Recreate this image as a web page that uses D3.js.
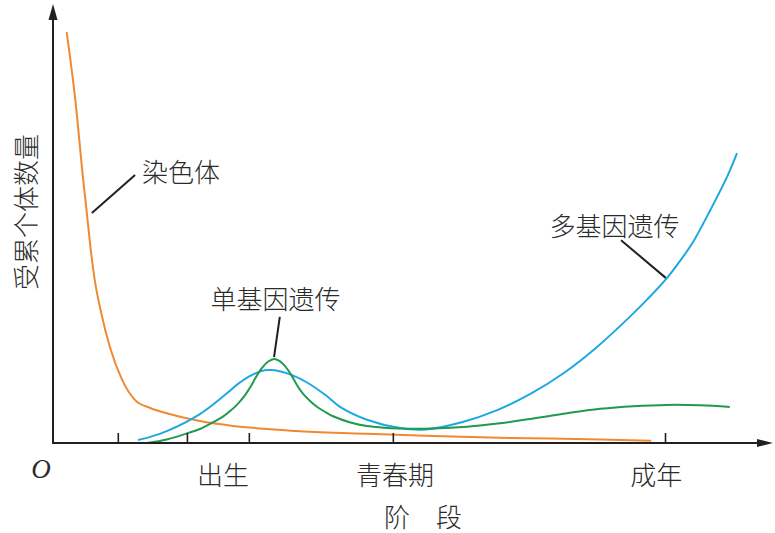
<!DOCTYPE html>
<html>
<head>
<meta charset="utf-8">
<script src="https://cdn.jsdelivr.net/npm/d3@7"></script>
<style>
  html, body { margin: 0; padding: 0; background: #fff; }
  svg { display: block; }
  text { font-family: "Noto Sans CJK SC", "Noto Sans", sans-serif; fill: #2b2b2b; font-weight: 300; }
</style>
</head>
<body>
<svg id="chart" width="775" height="533"></svg>
<script>
// ---------- data ----------
// x: developmental stage (0–100), y: number of affected individuals (0–100)
const chromoX = [1.9, 3.1, 4.2, 4.7, 5.2, 5.8, 6.7, 7.9, 9.6, 11.4, 13.5, 15.8, 20.4, 25, 29.7, 34.3, 43.6, 52.8, 62.1, 76, 83.1];
const chromoY = [93.8, 78.3, 60, 52.5, 44.7, 37.2, 29.7, 21.9, 14.4, 9.8, 8.0, 6.8, 5.0, 3.9, 3.2, 2.7, 2.1, 1.6, 1.2, 0.8, 0.5];

const polyX = [11.8, 13.5, 15.8, 20.4, 23.9, 25.7, 27.6, 29.4, 30.8, 33.2, 35.4, 37.8, 40.1, 43.6, 48.2, 51.7, 56.9, 61.7, 66.3, 70.8, 75.4, 80.1, 82.6, 85.3, 87.1, 88.9, 91.3, 93.6, 95.0];
const polyY = [0.7, 1.4, 2.7, 6.6, 11.0, 13.5, 15.5, 16.6, 16.6, 15.5, 13.7, 11.0, 8.0, 5.3, 3.4, 3.1, 4.8, 7.5, 11.2, 15.8, 21.7, 28.8, 32.9, 37.7, 41.6, 45.9, 53.2, 60.7, 66.2];

const monoX = [13.1, 15.8, 18.6, 20.4, 22.2, 23.5, 24.6, 25.7, 26.7, 27.5, 28.2, 29.0, 29.9, 30.7, 31.5, 32.2, 33.1, 33.9, 34.6, 35.7, 36.8, 37.9, 38.9, 41.3, 43.6, 48.2, 52.8, 57.5, 62.1, 66.7, 71.4, 76.0, 80.6, 85.3, 89.9, 94.0];
const monoY = [0.0, 0.8, 2.2, 3.2, 4.7, 5.9, 7.3, 9.0, 11.0, 13.0, 15.1, 17.1, 18.6, 19.2, 18.7, 17.6, 15.5, 13.2, 11.5, 9.6, 8.1, 7.0, 6.1, 4.7, 3.9, 3.3, 3.3, 3.7, 4.5, 5.6, 6.8, 7.8, 8.4, 8.7, 8.6, 8.2];

const tickValues = [9.0, 18.6, 27.2, 47.2, 85.0];
const stageNames = ["出生", "青春期", "成年"];
const stagePos = [23.6, 47.5, 83.8];

const seriesNames = ["染色体", "单基因遗传", "多基因遗传"];
const yTitle = "受累个体数量";
const xTitle = "阶　段";
const originLabel = "O";

// ---------- layout ----------
const svg = d3.select("#chart");
const x = d3.scaleLinear().domain([0, 100]).range([53, 773]);
const y = d3.scaleLinear().domain([0, 100]).range([443, 5]);
const axisColor = "#231f20";

const lineMono = d3.line()
  .x(d => x(d[0])).y(d => y(d[1]))
  .curve(d3.curveMonotoneX);
const lineSmooth = d3.line()
  .x(d => x(d[0])).y(d => y(d[1]))
  .curve(d3.curveCatmullRom.alpha(0.5));

function pts(xs, ys) { return xs.map((v, i) => [v, ys[i]]); }

// curves
svg.append("path").datum(pts(chromoX, chromoY))
  .attr("d", lineMono).attr("fill", "none").attr("stroke", "#ef8a32").attr("stroke-width", 2);
svg.append("path").datum(pts(polyX, polyY))
  .attr("d", lineSmooth).attr("fill", "none").attr("stroke", "#1ea8e0").attr("stroke-width", 2);
svg.append("path").datum(pts(monoX, monoY))
  .attr("d", lineSmooth).attr("fill", "none").attr("stroke", "#1f9a4f").attr("stroke-width", 2);

// x axis
const xAxis = d3.axisBottom(x).tickValues(tickValues).tickFormat("")
  .tickSize(-10).tickSizeOuter(0);
const gx = svg.append("g").attr("transform", `translate(0,${y(0)})`).call(xAxis);
gx.select(".domain").attr("stroke", axisColor).attr("stroke-width", 2)
  .attr("d", `M${x(0)},0H${x(100) - 10}`);
gx.selectAll(".tick line").attr("stroke", axisColor).attr("stroke-width", 1.6);
svg.append("path")
  .attr("d", `M${x(100)},${y(0)} L${x(100) - 16},${y(0) - 4} L${x(100) - 16},${y(0) + 4} Z`)
  .attr("fill", axisColor);

// y axis
svg.append("line")
  .attr("x1", x(0)).attr("x2", x(0)).attr("y1", y(0) + 1).attr("y2", y(100) + 10)
  .attr("stroke", axisColor).attr("stroke-width", 2);
svg.append("path")
  .attr("d", `M${x(0)},${y(100) - 1} L${x(0) - 4.5},${y(100) + 15} L${x(0) + 4.5},${y(100) + 15} Z`)
  .attr("fill", axisColor);

// stage labels
svg.selectAll(".stage").data(stageNames).enter().append("text")
  .attr("x", (d, i) => x(stagePos[i])).attr("y", 473)
  .attr("text-anchor", "middle").attr("dominant-baseline", "central")
  .attr("font-size", 26).text(d => d);

// origin
svg.append("text").attr("x", 41).attr("y", 469)
  .attr("text-anchor", "middle").attr("dominant-baseline", "central")
  .attr("font-style", "italic").attr("font-size", 27)
  .style("font-family", "'Liberation Serif', 'DejaVu Serif', serif")
  .style("font-weight", "400")
  .text(originLabel);

// axis titles
svg.append("text").attr("x", 423).attr("y", 515)
  .attr("text-anchor", "middle").attr("dominant-baseline", "central")
  .attr("font-size", 26).text(xTitle);
svg.append("text").attr("transform", "translate(24,212) rotate(-90)")
  .attr("text-anchor", "middle").attr("dominant-baseline", "central")
  .attr("font-size", 26).text(yTitle);

// series labels
const labelPos = [[142, 170, "start"], [275.5, 297, "middle"], [614.5, 224.5, "middle"]];
svg.selectAll(".slabel").data(seriesNames).enter().append("text")
  .attr("x", (d, i) => labelPos[i][0]).attr("y", (d, i) => labelPos[i][1])
  .attr("text-anchor", (d, i) => labelPos[i][2]).attr("dominant-baseline", "central")
  .attr("font-size", 26).text(d => d);

// leader lines (data coords): start near label, end on curve
const leaderStart = [[11.4, 61.2], [31.5, 28.8], [78.9, 46.3]];
const leaderTo = [[5.4, 52.5], [30.7, 19.6], [85.1, 37.7]];
svg.selectAll(".leader").data(leaderStart).enter().append("line")
  .attr("x1", d => x(d[0])).attr("y1", d => y(d[1]))
  .attr("x2", (d, i) => x(leaderTo[i][0])).attr("y2", (d, i) => y(leaderTo[i][1]))
  .attr("stroke", "#231f20").attr("stroke-width", 2);
</script>
</body>
</html>
